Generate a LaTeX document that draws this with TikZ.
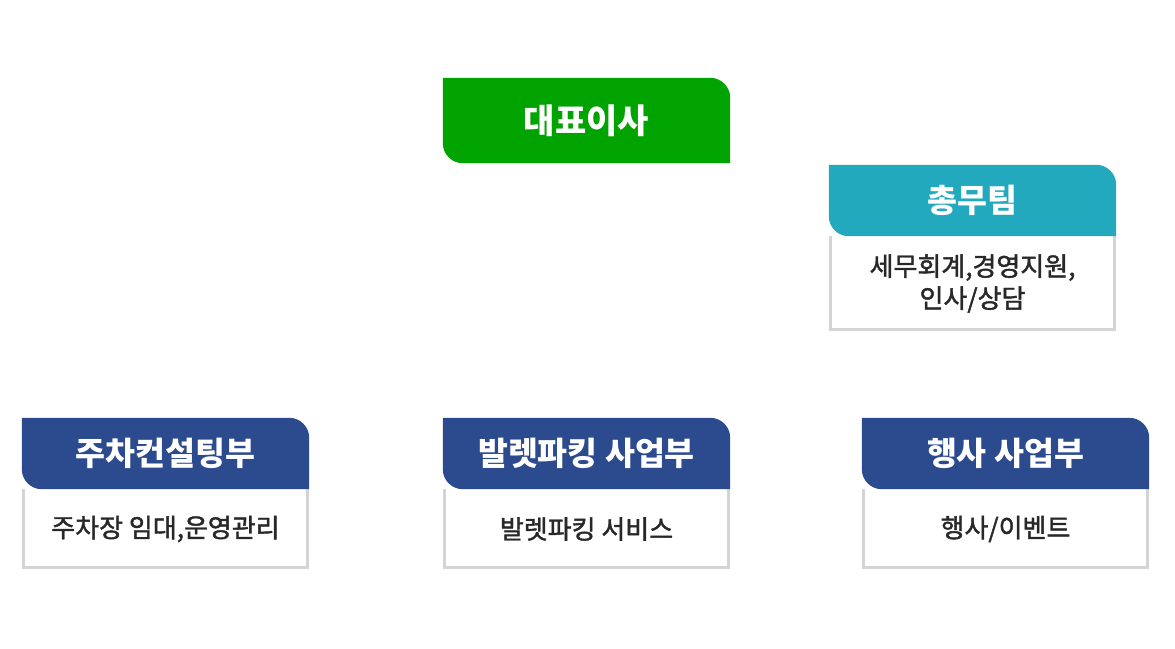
\documentclass[tikz,border=0pt]{standalone}
\usepackage{fontspec}
\setmainfont{Noto Sans CJK KR}
\newfontfamily\bodyfont[FakeBold=1.6]{Noto Sans CJK KR}
\usetikzlibrary{backgrounds}
\definecolor{ceogreen}{RGB}{0,163,0}
\definecolor{teamteal}{RGB}{34,169,190}
\definecolor{deptnavy}{RGB}{44,74,142}
\definecolor{boxgray}{RGB}{212,212,212}
\definecolor{textdark}{RGB}{40,40,40}
\newcommand{\headfill}[2]{%
  \fill[#2] (#1.north west) -- ([xshift=-\rad]#1.north east) arc[start angle=90,end angle=0,radius=\rad]
    -- (#1.south east) -- ([xshift=\rad]#1.south west) arc[start angle=270,end angle=180,radius=\rad] -- cycle;}
\newcommand{\bodyframe}[2]{%
  \draw[boxgray, line width=3pt] ([xshift=1.5pt]#1.south west) -- ([xshift=1.5pt,yshift=1.5pt]#2.south west)
    -- ([xshift=-1.5pt,yshift=1.5pt]#2.south east) -- ([xshift=-1.5pt]#1.south east);}

\begin{document}
\begin{tikzpicture}[x=1pt,y=1pt,
  head/.style={text=white, font=\bfseries\fontsize{32.5}{38}\selectfont, minimum width=287pt, minimum height=71pt, inner sep=0pt},
  body/.style={text=textdark, font=\bodyfont\fontsize{26}{32}\selectfont, minimum width=287pt, inner sep=0pt, align=center}]
\def\rad{20pt}
\useasboundingbox (0,0) rectangle (1175,648);

\node [head, minimum height=85pt, font=\bfseries\fontsize{34}{38}\selectfont, name=ceo]      at (586.5,527.5) {대표이사};

\node [head, name=hdgen]      at (972.5,447.5) {총무팀};
\node [body, minimum height=95pt, name=bdgen]      at (972.5,364.5) {세무회계,경영지원,\\인사/상담};

\node [head, name=hdpark]      at (165.5,194.5) {주차컨설팅부};
\node [head, name=hdvalet]      at (586.5,194.5) {발렛파킹 사업부};
\node [head, name=hdevent]      at (1005.5,194.5) {행사 사업부};
\node [body, minimum height=80pt, name=bdpark]      at (165.5,119) {주차장 임대,운영관리};
\node [body, minimum height=80pt, name=bdvalet]      at (586.5,119) {발렛파킹 서비스};
\node [body, minimum height=80pt, name=bdevent]      at (1005.5,119) {행사/이벤트};

\begin{scope}[on background layer]
\bodyframe{hdgen}{bdgen}
\bodyframe{hdpark}{bdpark}
\bodyframe{hdvalet}{bdvalet}
\bodyframe{hdevent}{bdevent}
\headfill{ceo}{ceogreen}
\headfill{hdgen}{teamteal}
\headfill{hdpark}{deptnavy}
\headfill{hdvalet}{deptnavy}
\headfill{hdevent}{deptnavy}
\end{scope}
\end{tikzpicture}
\end{document}
